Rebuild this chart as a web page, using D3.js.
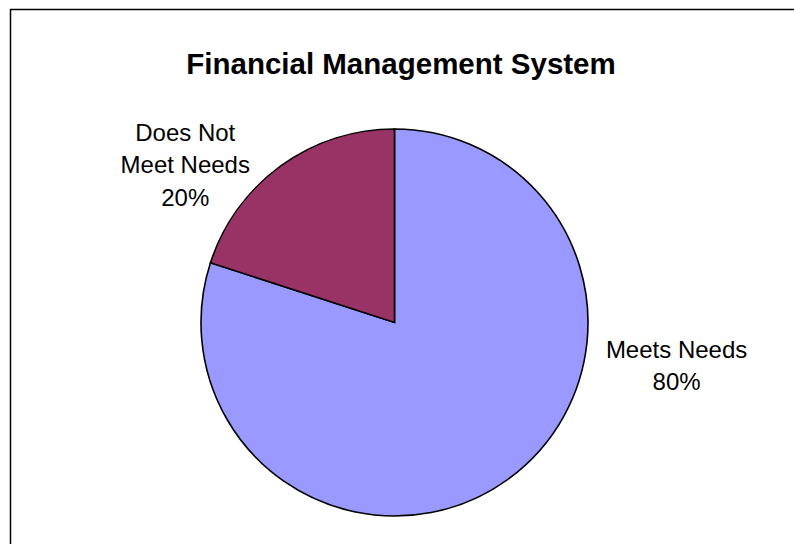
<!DOCTYPE html>
<html>
<head>
<meta charset="utf-8">
<script src="https://cdn.jsdelivr.net/npm/d3@7"></script>
<style>
  html, body { margin: 0; padding: 0; background: #fff; }
  svg { display: block; }
  text { font-family: "Liberation Sans", Arial, sans-serif; fill: #000; }
</style>
</head>
<body>
<svg id="chart" width="794" height="544"></svg>
<script>
// Survey results for the financial management system
const categories = ["Meets Needs", "Does Not Meet Needs"];
const values = [80, 20];
const labelLines = [["Meets Needs", "80%"], ["Does Not", "Meet Needs", "20%"]];
const colors = ["#9999FF", "#993366"];
const title = "Financial Management System";

const W = 794, H = 544;
const cx = 394.5, cy = 322.5, R = 193.5;

const svg = d3.select("#chart");

// chart frame (runs off the right and bottom edges)
svg.append("rect")
  .attr("x", 10.5).attr("y", 9.5)
  .attr("width", W + 20).attr("height", H + 20)
  .attr("fill", "#fff")
  .attr("stroke", "#000")
  .attr("stroke-width", 1.5);

svg.append("text")
  .attr("x", 401).attr("y", 74)
  .attr("text-anchor", "middle")
  .style("font-size", "29.5px")
  .style("font-weight", "bold")
  .text(title);

const pie = d3.pie().sort(null).value(d => d)(values);
const arc = d3.arc().innerRadius(0).outerRadius(R);

const g = svg.append("g").attr("transform", `translate(${cx},${cy})`);

g.selectAll("path.slice")
  .data(pie)
  .join("path")
  .attr("class", "slice")
  .attr("d", arc)
  .attr("fill", (d, i) => colors[i])
  .attr("stroke", "#000")
  .attr("stroke-width", 1.6)
  .attr("stroke-linejoin", "miter");

// label placement: polar offset from the pie centre (angle clockwise from top, distance)
const labelPlacement = [
  { angle: 98.6, dist: 285.3 },
  { angle: 307.0, dist: 262 }
];
const lineH = 32.5, fontSize = 24;

g.selectAll("text.lbl")
  .data(pie)
  .join("text")
  .attr("class", "lbl")
  .attr("text-anchor", "middle")
  .style("font-size", fontSize + "px")
  .each(function(d, i) {
    const p = labelPlacement[i];
    const a = p.angle * Math.PI / 180;
    const x = Math.sin(a) * p.dist;
    const y = -Math.cos(a) * p.dist;
    const lines = labelLines[i];
    const n = lines.length;
    // block of lines centred vertically on the anchor
    const firstBaseline = y - (n - 1) * lineH / 2 + fontSize * 0.36;
    d3.select(this).selectAll("tspan")
      .data(lines)
      .join("tspan")
      .attr("x", x)
      .attr("y", (t, j) => firstBaseline + j * lineH)
      .text(t => t);
  });
</script>
</body>
</html>
